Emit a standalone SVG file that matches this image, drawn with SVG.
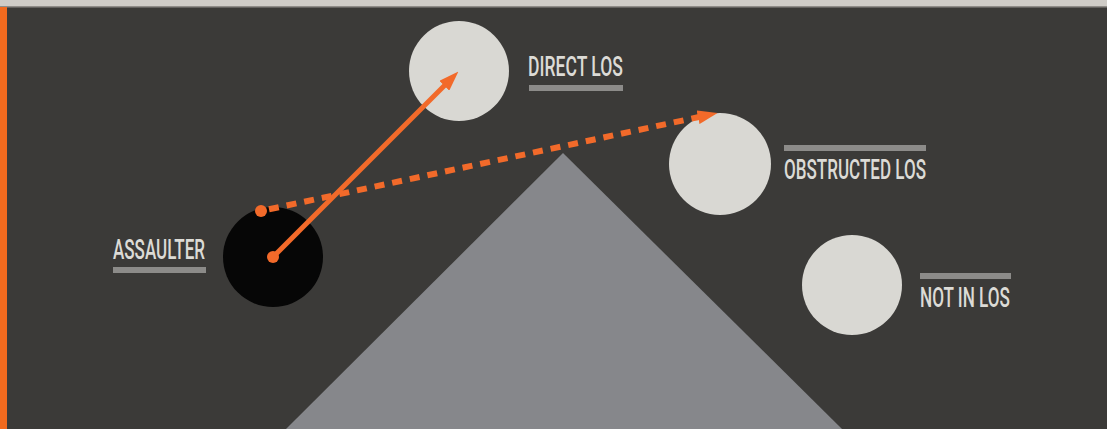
<svg xmlns="http://www.w3.org/2000/svg" width="1107" height="429" viewBox="0 0 1107 429">
<defs>
<style>
.lbl{font-family:Roboto,"Liberation Sans",sans-serif;font-weight:500;font-size:27px;fill:#dcdbd6}
.bar{fill:#8c8b89}
.tgt{fill:#d9d8d3}
.los{stroke:#f26a2a;fill:none}
</style>
<marker id="ah" viewBox="0 0 20 14" refX="1" refY="7" markerWidth="20" markerHeight="14" markerUnits="userSpaceOnUse" orient="auto">
<path d="M0,0 L20,7 L0,14 z" fill="#f26a2a"/>
</marker>
</defs>
<rect width="1107" height="429" fill="#3b3a38"/>
<rect x="0" y="0" width="1107" height="6" fill="#cfccc7"/>
<rect x="0" y="6" width="1107" height="1.5" fill="#8f8c88"/>
<rect x="0" y="7" width="7" height="422" fill="#f26a1e"/>
<polygon id="obstacle" points="563,153 842,429 286,429" fill="#86878b"/>
<g id="direct">
<circle class="tgt" cx="459" cy="71" r="50"/>
<text class="lbl" x="528" y="76" textLength="95" lengthAdjust="spacingAndGlyphs">DIRECT LOS</text>
<rect class="bar" x="529" y="85" width="94" height="6"/>
</g>
<g id="obstructed">
<circle class="tgt" cx="720" cy="164" r="51"/>
<rect class="bar" x="784" y="145" width="142" height="6"/>
<text class="lbl" x="784" y="179" textLength="142" lengthAdjust="spacingAndGlyphs">OBSTRUCTED LOS</text>
</g>
<g id="notinlos">
<circle class="tgt" cx="852" cy="285" r="50"/>
<rect class="bar" x="920" y="273" width="91" height="6"/>
<text class="lbl" x="920" y="307" textLength="90" lengthAdjust="spacingAndGlyphs">NOT IN LOS</text>
</g>
<g id="assaulter">
<circle cx="273" cy="257" r="50" fill="#060606"/>
<text class="lbl" x="113" y="259" textLength="92" lengthAdjust="spacingAndGlyphs">ASSAULTER</text>
<rect class="bar" x="113" y="267" width="93" height="6"/>
</g>
<g id="connectors">
<circle cx="273" cy="257" r="6" fill="#f26a2a"/>
<line class="los" x1="273" y1="257" x2="445" y2="85" stroke-width="5" marker-end="url(#ah)"/>
<circle cx="261" cy="211" r="6" fill="#f26a2a"/>
<line class="los" x1="269" y1="209.3" x2="699" y2="117" stroke-width="6" stroke-dasharray="10 8" marker-end="url(#ah)"/>
</g>
</svg>
